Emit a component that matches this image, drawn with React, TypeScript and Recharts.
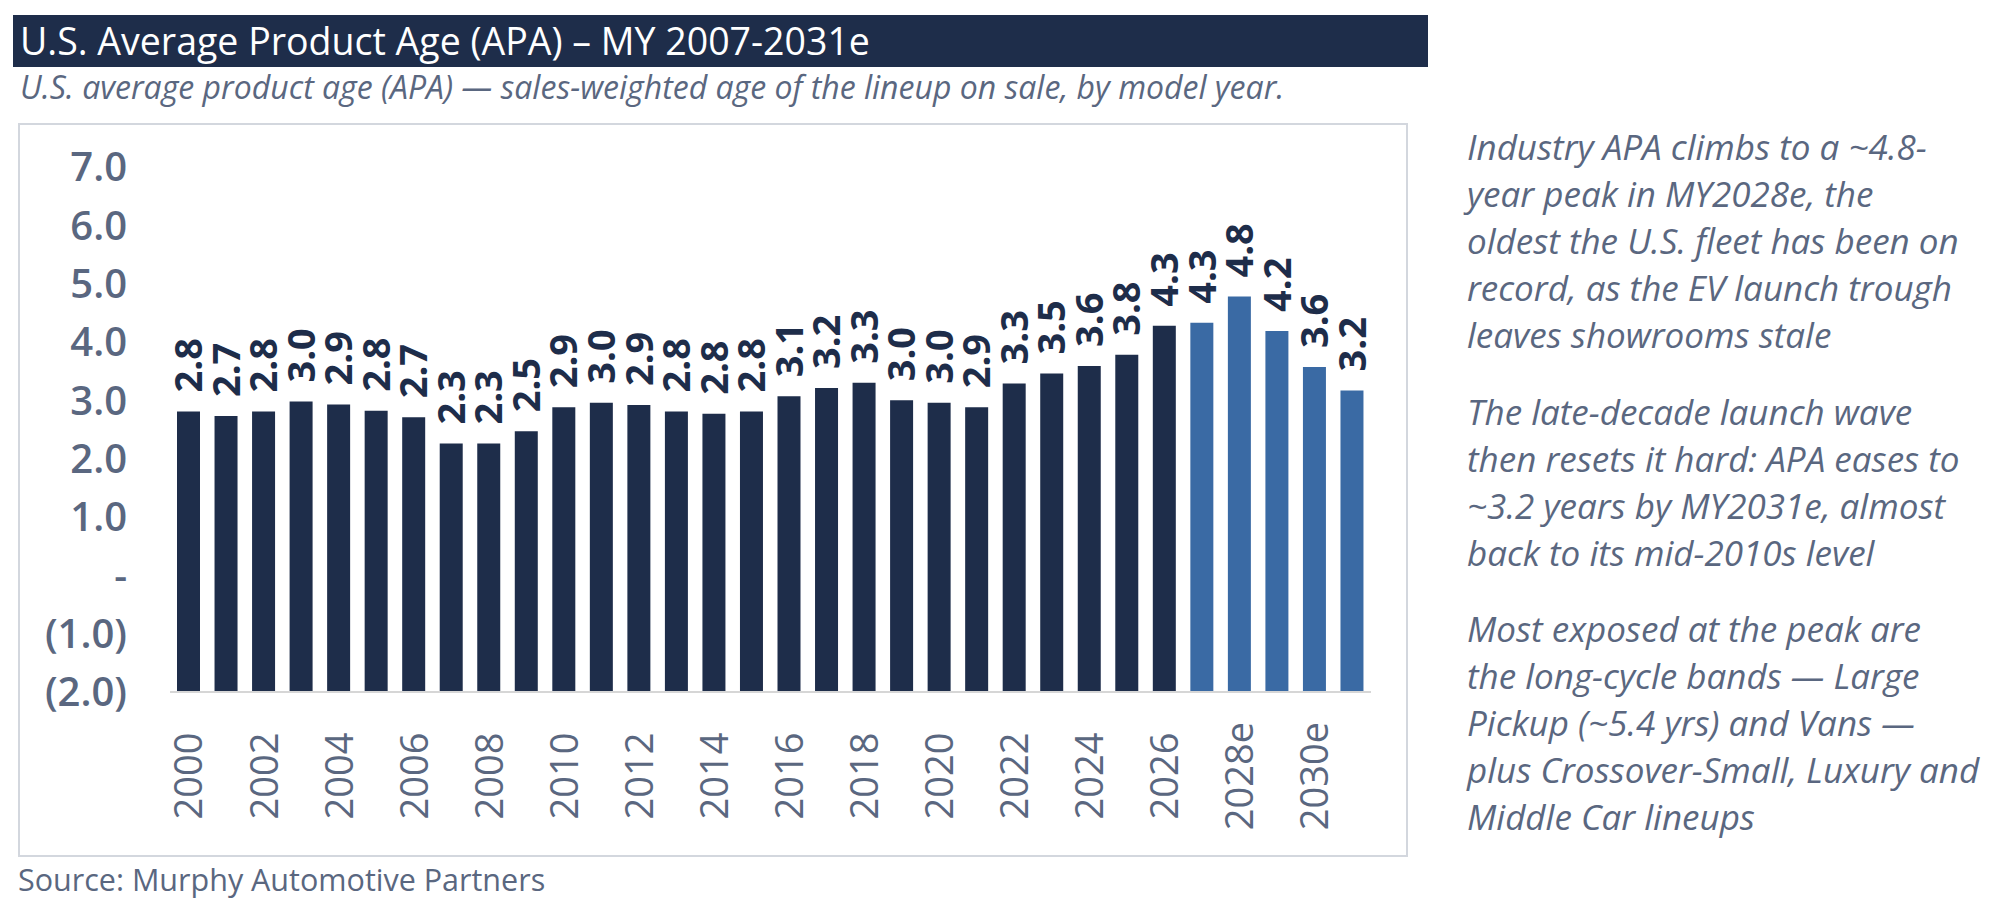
import React from "react";
import { BarChart, Bar, XAxis, YAxis, Cell, LabelList } from "recharts";

// ── data ──────────────────────────────────────────────────────────────────

const YEARS = [
  "2000", "2001", "2002", "2003", "2004", "2005", "2006", "2007",
  "2008", "2009", "2010", "2011", "2012", "2013", "2014", "2015",
  "2016", "2017", "2018", "2019", "2020", "2021", "2022", "2023",
  "2024", "2025", "2026", "2027e", "2028e", "2029e", "2030e", "2031e",
];

// average product age, years
const APA = [
  2.81, 2.73, 2.81, 2.98, 2.93, 2.82, 2.71, 2.26,
  2.26, 2.47, 2.88, 2.96, 2.92, 2.81, 2.77, 2.81,
  3.07, 3.21, 3.3, 3.0, 2.96, 2.88, 3.29, 3.46,
  3.59, 3.78, 4.28, 4.33, 4.78, 4.19, 3.57, 3.17,
];

const Y_TICKS = [-2, -1, 0, 1, 2, 3, 4, 5, 6, 7];

const TITLE = "U.S. Average Product Age (APA) – MY 2007-2031e";
const SUBTITLE =
  "U.S. average product age (APA) — sales-weighted age of the lineup on sale, by model year.";
const SOURCE = "Source: Murphy Automotive Partners";

const NOTES = [
  [
    "Industry APA climbs to a ~4.8-",
    "year peak in MY2028e, the",
    "oldest the U.S. fleet has been on",
    "record, as the EV launch trough",
    "leaves showrooms stale",
  ],
  [
    "The late-decade launch wave",
    "then resets it hard: APA eases to",
    "~3.2 years by MY2031e, almost",
    "back to its mid-2010s level",
  ],
  [
    "Most exposed at the peak are",
    "the long-cycle bands — Large",
    "Pickup (~5.4 yrs) and Vans —",
    "plus Crossover-Small, Luxury and",
    "Middle Car lineups",
  ],
];

// ── theme ─────────────────────────────────────────────────────────────────

const NAVY = "#1e2d4a";
const STEEL = "#3a6aa4";
const INK = "#5a6780";
const RULE = "#d3d7de";
const FONT = '"Open Sans", sans-serif';

const rows = YEARS.map((year, i) => ({ year, apa: APA[i], forecast: year.endsWith("e") }));

function fmtTick(v: number) {
  if (v === 0) return "-";
  return v < 0 ? `(${Math.abs(v).toFixed(1)})` : v.toFixed(1);
}

// rotated year labels, centred under each band
function YearTick(props: any) {
  const { x, y, payload } = props;
  const cy = y + 84;
  return (
    <text
      x={x}
      y={cy}
      transform={`rotate(-90, ${x}, ${cy})`}
      textAnchor="middle"
      dy="0.36em"
      fontSize={38}
      fill={INK}
      fontFamily={FONT}
    >
      {payload.value}
    </text>
  );
}

// rotated value label sitting above the bar
function ValueLabel(props: any) {
  const { x, y, width, height, index } = props;
  const top = Math.min(y, y + height);
  const cx = x + width / 2;
  const ly = top - 19;
  return (
    <text
      x={cx}
      y={ly}
      transform={`rotate(-90, ${cx}, ${ly})`}
      textAnchor="start"
      dy="0.36em"
      fontSize={38}
      fontWeight={700}
      fill={NAVY}
      fontFamily={FONT}
    >
      {APA[index].toFixed(1)}
    </text>
  );
}

export default function App() {
  return (
    <div
      style={{
        position: "fixed",
        left: 0,
        top: 0,
        width: 2014,
        height: 910,
        background: "#fff",
        overflow: "hidden",
        fontFamily: FONT,
      }}
    >
      {/* title bar */}
      <div
        style={{
          position: "absolute",
          left: 13,
          top: 15,
          width: 1415,
          height: 52,
          background: NAVY,
          color: "#fff",
          fontSize: 37.5,
          lineHeight: "52px",
          paddingLeft: 7,
          boxSizing: "border-box",
          whiteSpace: "nowrap",
        }}
      >
        {TITLE}
      </div>
      <div
        style={{
          position: "absolute",
          left: 20,
          top: 67,
          fontSize: 32,
          lineHeight: "40px",
          fontStyle: "italic",
          color: INK,
          whiteSpace: "nowrap",
        }}
      >
        {SUBTITLE}
      </div>

      {/* chart panel */}
      <div
        style={{
          position: "absolute",
          left: 18,
          top: 123,
          width: 1390,
          height: 734,
          border: `2px solid ${RULE}`,
          boxSizing: "border-box",
        }}
      />
      <div style={{ position: "absolute", left: 0, top: 0 }}>
        <BarChart
          width={1410}
          height={860}
          data={rows}
          margin={{ top: 167, right: 39, left: 0, bottom: 0 }}
        >
          <XAxis
            dataKey="year"
            interval={1}
            height={168}
            tickSize={0}
            tickMargin={0}
            tick={<YearTick />}
            axisLine={{ stroke: "#d6d6d6", strokeWidth: 2 }}
            tickLine={false}
          />
          <YAxis
            type="number"
            domain={[-2, 7]}
            ticks={Y_TICKS}
            interval={0}
            width={170}
            tickSize={0}
            tickMargin={43}
            tickFormatter={fmtTick}
            tick={{ fontSize: 40, fontWeight: 600, fill: INK, fontFamily: FONT }}
            axisLine={false}
            tickLine={false}
          />
          <Bar
            dataKey={(d: any) => [Y_TICKS[0], d.apa]}
            barSize={23}
            isAnimationActive={false}
          >
            {rows.map((r) => (
              <Cell key={r.year} fill={r.forecast ? STEEL : NAVY} />
            ))}
            <LabelList dataKey="apa" content={<ValueLabel />} />
          </Bar>
        </BarChart>
      </div>

      {/* commentary */}
      <div
        style={{
          position: "absolute",
          left: 1467,
          top: 123,
          fontSize: 35,
          lineHeight: "47px",
          fontStyle: "italic",
          color: INK,
          whiteSpace: "nowrap",
        }}
      >
        {NOTES.map((para, i) => (
          <div key={i} style={{ marginBottom: 29.5 }}>
            {para.map((line) => (
              <div key={line}>{line}</div>
            ))}
          </div>
        ))}
      </div>

      <div
        style={{
          position: "absolute",
          left: 18,
          top: 861,
          fontSize: 30.5,
          lineHeight: "36px",
          color: INK,
          whiteSpace: "nowrap",
        }}
      >
        {SOURCE}
      </div>
    </div>
  );
}
